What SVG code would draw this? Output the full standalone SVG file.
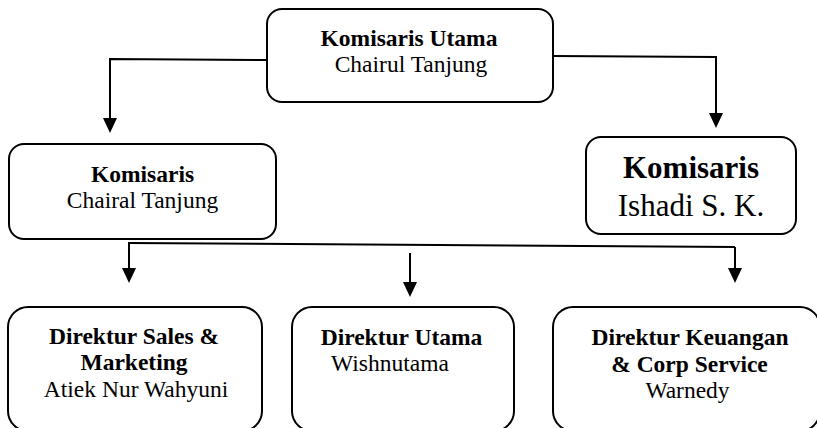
<svg xmlns="http://www.w3.org/2000/svg" width="817" height="428" viewBox="0 0 817 428">
<style>
.box{fill:#fff;stroke:#000;stroke-width:2}
.b{font-family:"Liberation Serif","Times New Roman",serif;font-weight:bold;font-size:23.5px;fill:#000;text-anchor:middle}
.r{font-family:"Liberation Serif","Times New Roman",serif;font-size:23.5px;fill:#000;text-anchor:middle}
.big{font-size:31px}
.ln{fill:none;stroke:#000;stroke-width:2}
</style>
<defs>
<marker id="ah" markerUnits="userSpaceOnUse" markerWidth="15" markerHeight="14" viewBox="0 0 15 14" refX="0" refY="7" orient="auto">
<path d="M0,0 L15,7 L0,14 z" fill="#000"/>
</marker>
</defs>
<rect width="817" height="428" fill="#fff"/>
<g id="connectors">
<path class="ln" d="M267,60 L110,59 L110,118" marker-end="url(#ah)"/>
<path class="ln" d="M553,56 L716,57 L716,113" marker-end="url(#ah)"/>
<path class="ln" d="M128,243 L735,247"/>
<path class="ln" d="M129,243 L129,268" marker-end="url(#ah)"/>
<path class="ln" d="M410,253 L410,282" marker-end="url(#ah)"/>
<path class="ln" d="M735,247 L735,268" marker-end="url(#ah)"/>
</g>
<g id="komisaris-utama">
<rect class="box" x="267" y="9" width="286" height="93" rx="15"/>
<text class="b" x="409" y="46">Komisaris Utama</text>
<text class="r" x="411" y="72">Chairul Tanjung</text>
</g>
<g id="komisaris-chairal">
<rect class="box" x="9" y="144" width="267" height="95" rx="15"/>
<text class="b" x="142.5" y="182">Komisaris</text>
<text class="r" x="142.5" y="208">Chairal Tanjung</text>
</g>
<g id="komisaris-ishadi">
<rect class="box" x="586" y="137" width="210" height="97" rx="15"/>
<text class="b big" x="691" y="178">Komisaris</text>
<text class="r big" x="691" y="216">Ishadi S. K.</text>
</g>
<g id="direktur-sales">
<rect class="box" x="8" y="307" width="254" height="124" rx="20"/>
<text class="b" x="134" y="344">Direktur Sales &amp;</text>
<text class="b" x="134" y="370">Marketing</text>
<text class="r" x="136" y="397">Atiek Nur Wahyuni</text>
</g>
<g id="direktur-utama">
<rect class="box" x="292" y="307" width="222" height="124" rx="20"/>
<text class="b" x="401.5" y="345">Direktur Utama</text>
<text class="r" x="390" y="371">Wishnutama</text>
</g>
<g id="direktur-keuangan">
<rect class="box" x="553" y="307" width="267" height="124" rx="20"/>
<text class="b" x="690" y="345">Direktur Keuangan</text>
<text class="b" x="689.5" y="372">&amp; Corp Service</text>
<text class="r" x="687.5" y="398">Warnedy</text>
</g>
</svg>
